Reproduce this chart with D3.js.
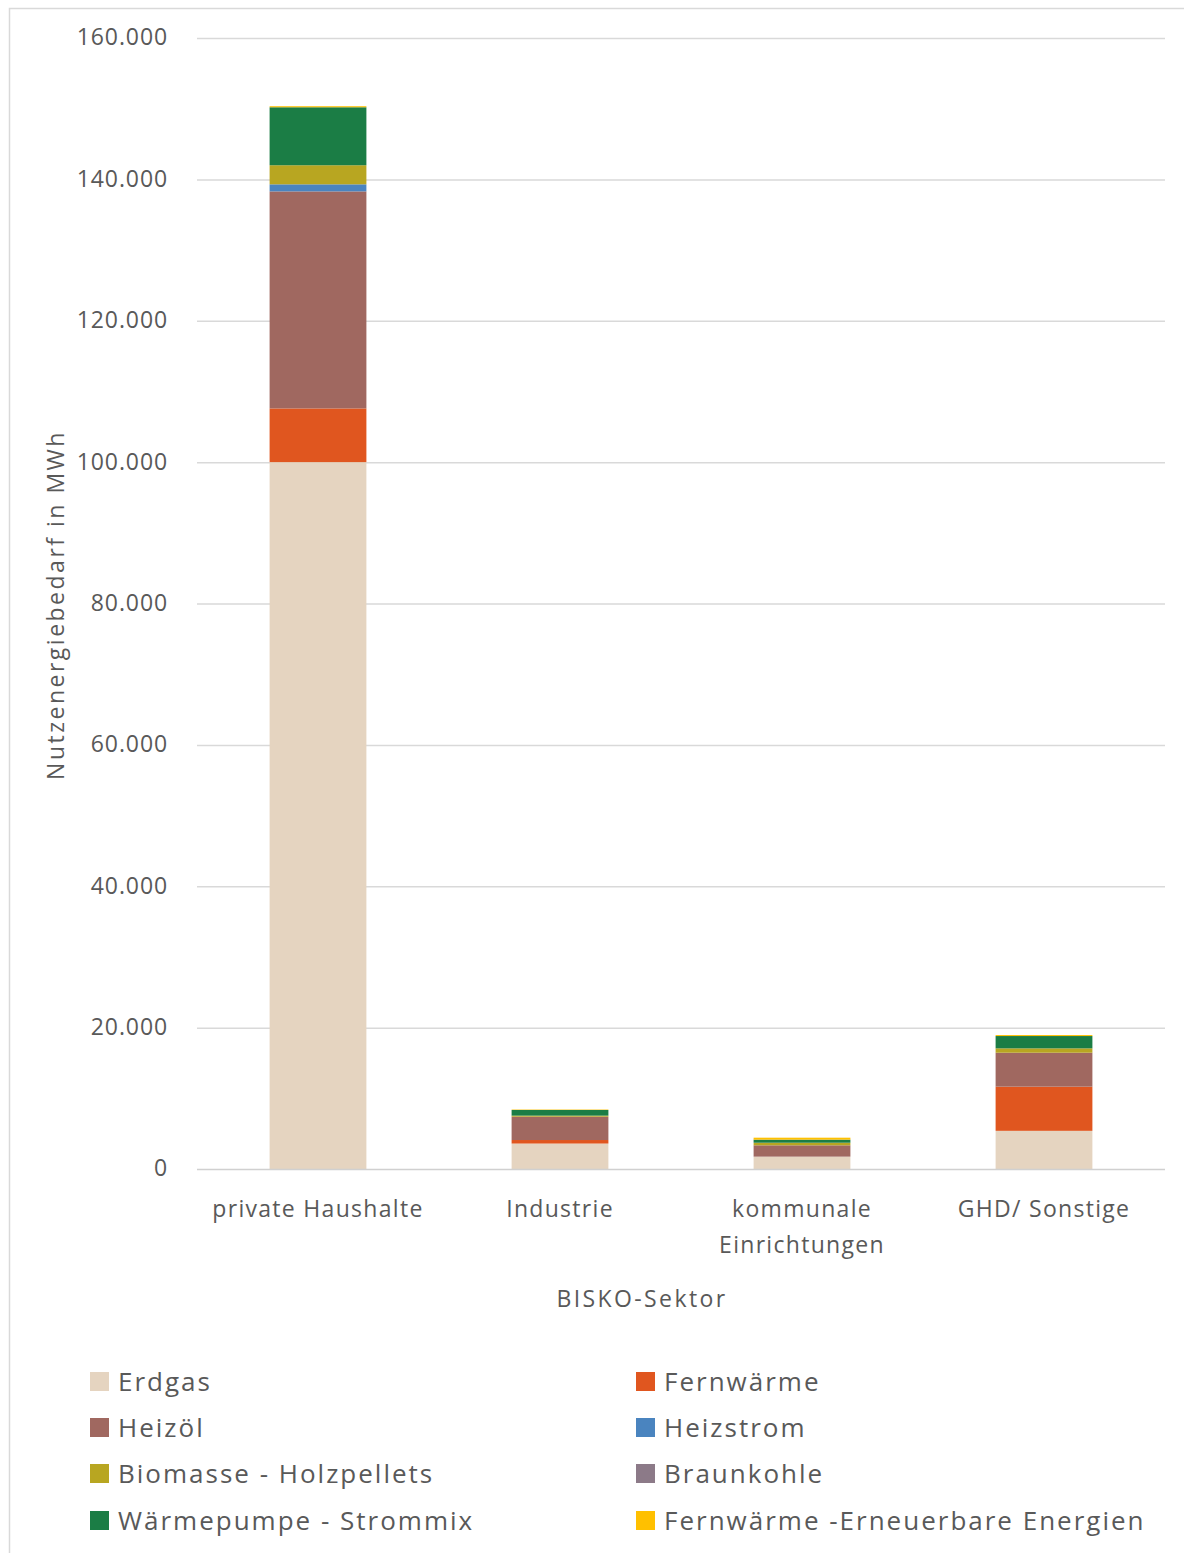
<!DOCTYPE html>
<html><head><meta charset="utf-8">
<script src="https://cdn.jsdelivr.net/npm/d3@7"></script>
<style>
body{margin:0;background:#fff;}
text{font-family:"Open Sans",sans-serif;fill:#595959;}
</style></head><body>
<svg id="chart" width="1184" height="1553"></svg>
<script>
const categories = ["private Haushalte","Industrie","kommunale Einrichtungen","GHD/ Sonstige"];
const categoryLines = [["private Haushalte"],["Industrie"],["kommunale","Einrichtungen"],["GHD/ Sonstige"]];
const seriesNames = ["Erdgas","Fernwärme","Heizöl","Heizstrom","Biomasse - Holzpellets","Braunkohle","Wärmepumpe - Strommix","Fernwärme -Erneuerbare Energien"];
const erdgas      = [100000, 3600, 1750, 5400];
const fernwaerme  = [7600, 500, 0, 6250];
const heizoel     = [30700, 3300, 1600, 4800];
const heizstrom   = [1000, 0, 0, 0];
const biomasse    = [2700, 150, 370, 620];
const braunkohle  = [0, 0, 0, 0];
const waermepumpe = [8200, 800, 430, 1740];
const fernwaermeEE= [150, 60, 280, 140];
const yTicks = [0,20000,40000,60000,80000,100000,120000,140000,160000];
const colors = ["#e5d4c0","#e0561f","#a06860","#4a84bf","#b8a621","#8c7a88","#1b7d45","#ffc000"];

const seriesValues = [erdgas,fernwaerme,heizoel,heizstrom,biomasse,braunkohle,waermepumpe,fernwaermeEE];
const table = categories.map((c,i)=>{const o={cat:c};seriesNames.forEach((s,j)=>o[s]=seriesValues[j][i]);return o;});

const svg = d3.select("#chart");
// outer frame
svg.append("rect").attr("x",9.5).attr("y",8.5).attr("width",1200).attr("height",1600)
  .attr("fill","none").attr("stroke","#d9d9d9").attr("stroke-width",1.5);

const L=197,R=1165,T=38,B=1169;
const x = d3.scaleBand().domain(categories).range([L,R]).paddingInner(0.6).paddingOuter(0.3);
const y = d3.scaleLinear().domain([0,160000]).range([B,T]);
const fmt = v => d3.format(",")(v).replace(/,/g,".");

// gridlines
svg.append("g").selectAll("line").data(yTicks.filter(d=>d>0)).join("line")
  .attr("x1",L).attr("x2",R).attr("y1",d=>y(d)+0.5).attr("y2",d=>y(d)+0.5)
  .attr("stroke","#d9d9d9").attr("stroke-width",1.5);

// y axis labels
const yAxis = d3.axisLeft(y).tickValues(yTicks).tickFormat(fmt).tickSize(0).tickPadding(29);
const gy = svg.append("g").attr("transform",`translate(${L},0)`).call(yAxis);
gy.select(".domain").remove();
gy.selectAll("text").attr("font-size",23).attr("font-family","Open Sans").attr("fill","#595959")
  .attr("letter-spacing","0.9px").attr("dy","0.3em");

// stacked bars
const stack = d3.stack().keys(seriesNames)(table);
svg.append("g").selectAll("g").data(stack).join("g").attr("fill",(d,i)=>colors[i])
  .selectAll("rect").data(d=>d).join("rect")
  .attr("x",d=>x(d.data.cat)).attr("width",x.bandwidth())
  .attr("y",d=>y(d[1])).attr("height",d=>Math.max(0,y(d[0])-y(d[1])));

// x axis line
svg.append("line").attr("x1",L).attr("x2",R).attr("y1",B+0.5).attr("y2",B+0.5)
  .attr("stroke","#d0d0d0").attr("stroke-width",1.5);

// x labels
const gx = svg.append("g");
categories.forEach((c,i)=>{
  const cx = x(c)+x.bandwidth()/2;
  const t = gx.append("text").attr("x",cx).attr("y",1217)
    .attr("text-anchor","middle").attr("font-size",23).attr("letter-spacing","1.3px");
  categoryLines[i].forEach((ln,k)=>t.append("tspan").attr("x",cx).attr("dy",k?36:0).text(ln));
});

// axis titles
svg.append("text").attr("x",642).attr("y",1307).attr("text-anchor","middle").attr("font-size",23)
  .attr("letter-spacing","2.4px").text("BISKO-Sektor");
svg.append("text").attr("transform","translate(64,605) rotate(-90)").attr("text-anchor","middle")
  .attr("font-size",23).attr("letter-spacing","2.5px").text("Nutzenergiebedarf in MWh");

// legend
const legX=[90,636], legY=[1381,1427,1473,1520];
const lg = svg.append("g").selectAll("g").data(seriesNames).join("g")
  .attr("transform",(d,i)=>`translate(${legX[i%2]},${legY[Math.floor(i/2)]})`);
lg.append("rect").attr("x",0).attr("y",-9).attr("width",19).attr("height",19).attr("fill",(d,i)=>colors[i]);
lg.append("text").attr("x",28).attr("y",10).attr("font-size",26).attr("letter-spacing","2px").text(d=>d);
</script>
</body></html>
